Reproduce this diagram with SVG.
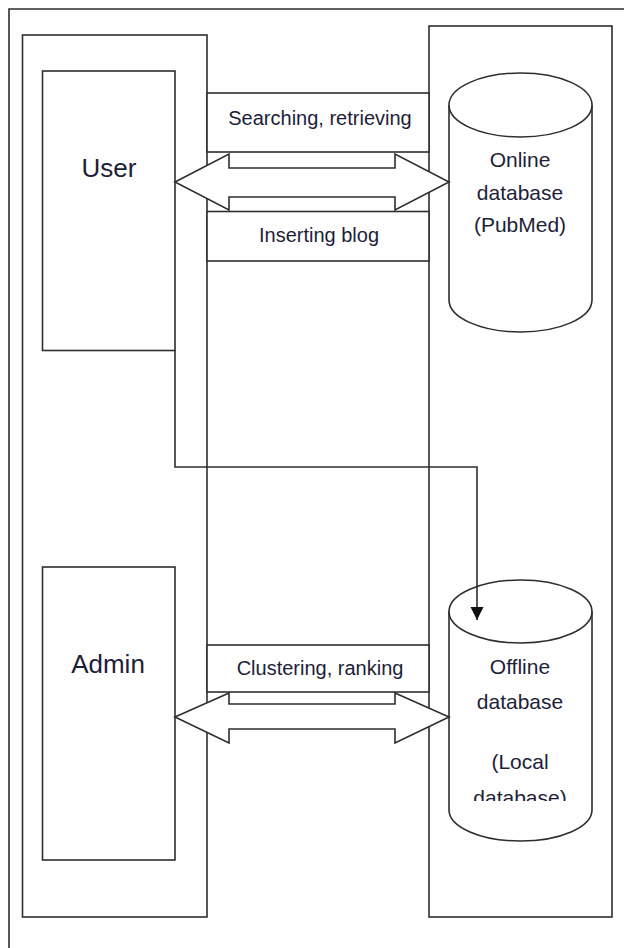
<svg xmlns="http://www.w3.org/2000/svg" width="624" height="948" viewBox="0 0 624 948">
<style>
.ln{fill:none;stroke:#2e2e2e;stroke-width:1.6}
.bx{fill:#fff;stroke:#2e2e2e;stroke-width:1.6}
.t{font-family:"Liberation Sans",Arial,sans-serif;fill:#1e1e38;text-anchor:middle}
.s20{font-size:20px}
.s21{font-size:21px}
.s26{font-size:26px}
</style>
<defs>
<marker id="ah" markerUnits="userSpaceOnUse" markerWidth="14" markerHeight="14" refX="13" refY="6.5" orient="auto">
<path d="M0,0 L13,6.5 L0,13 Z" fill="#111"/>
</marker>
<clipPath id="cut"><rect x="440" y="740" width="170" height="61"/></clipPath>
</defs>
<g id="frame">
<path class="ln" d="M9,948 L9,9 L624,9"/>
</g>
<g id="client-side"><rect class="bx" x="22.5" y="35" width="184.5" height="882"/></g>
<g id="server-side"><rect class="bx" x="429" y="26" width="183" height="891"/></g>
<g id="band-search"><rect class="bx" x="207" y="93" width="222" height="59"/><text class="t s20" x="320" y="125">Searching, retrieving</text></g>
<g id="band-insert"><rect class="bx" x="207" y="211.5" width="222" height="49.5"/><text class="t s20" x="319" y="242">Inserting blog</text></g>
<g id="band-cluster"><rect class="bx" x="207" y="645" width="222" height="47"/><text class="t s20" x="320" y="675">Clustering, ranking</text></g>
<g id="user"><rect class="bx" x="42.5" y="71" width="132.5" height="279.5"/><text class="t s26" x="109" y="177">User</text></g>
<g id="admin"><rect class="bx" x="42.5" y="567" width="132.5" height="293"/><text class="t s26" x="108" y="673">Admin</text></g>
<g id="online-db">
<path class="bx" d="M449,105 L449,300 A71.5,32 0 0 0 592,300 L592,105"/>
<ellipse class="bx" cx="520.5" cy="105" rx="71.5" ry="32"/>
<text class="t s21" x="520" y="167">Online</text>
<text class="t s21" x="520" y="200">database</text>
<text class="t s21" x="520" y="232">(PubMed)</text>
</g>
<g id="offline-db">
<path class="bx" d="M449,611.5 L449,810 A71.5,31 0 0 0 592,810 L592,611.5"/>
<ellipse class="bx" cx="520.5" cy="611.5" rx="71.5" ry="31.5"/>
<text class="t s21" x="520" y="674">Offline</text>
<text class="t s21" x="520" y="709">database</text>
<text class="t s21" x="520" y="769">(Local</text>
<text class="t s21" x="520" y="805" clip-path="url(#cut)">database)</text>
</g>
<g id="connectors">
<path class="bx" d="M175,182 L229,154 L229,168 L395,168 L395,154 L449,182 L395,210 L395,197 L229,197 L229,210 Z"/>
<path class="bx" d="M175,717 L229,693 L229,704 L395,704 L395,693 L449,717 L395,743 L395,729 L229,729 L229,743 Z"/>
<path class="ln" d="M175,350 L175,467 L477,467 L477,620" marker-end="url(#ah)"/>
</g>
</svg>
